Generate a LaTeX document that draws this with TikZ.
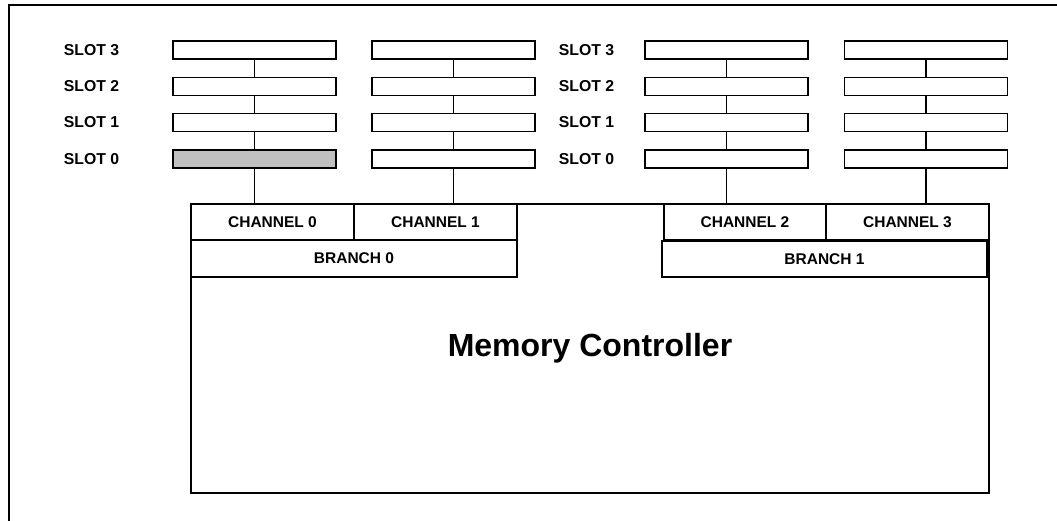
\documentclass[tikz,border=0pt]{standalone}
\usepackage{fontspec}
\setmainfont{Liberation Sans}
\definecolor{slotgray}{RGB}{192,192,192}
\begin{document}
\begin{tikzpicture}[x=1pt,y=-1pt,line width=1.8pt,
  box/.style={draw,rectangle,inner sep=0pt,outer sep=0pt},
  slotbox/.style={box,minimum width=163pt,minimum height=18pt},
  chbox/.style={box,minimum width=163pt,minimum height=36pt,font=\bfseries\fontsize{15.5}{18}\selectfont},
  brbox/.style={box,minimum width=326pt,minimum height=37pt,font=\bfseries\fontsize{15.5}{18}\selectfont},
  lbl/.style={inner sep=0pt,anchor=west,font=\bfseries\fontsize{15.8}{18}\selectfont},
  wire/.style={line width=1.5pt}]
\useasboundingbox (0,0) rectangle (1057,521);
\draw[line width=2pt] (9,521) -- (9,5) -- (1057,5);
% memory controller
\node[box,minimum width=798pt,minimum height=289pt] (mc) at (590,348.5) {};
\node[inner sep=0pt,font=\bfseries\fontsize{32}{38}\selectfont] (mclbl) at (590,348) {Memory Controller};
% channels and branches
\node[chbox] (ch0) at (272.5,222) {CHANNEL 0};
\node[chbox] (ch1) at (435.5,222) {CHANNEL 1};
\node[brbox] (br0) at (354,258.5) {BRANCH 0};
\node[chbox,minimum width=162pt] (ch2) at (745,222) {CHANNEL 2};
\node[chbox] (ch3) at (907.5,222) {CHANNEL 3};
\node[brbox,minimum width=325pt,minimum height=36pt] (br1) at (824.5,259) {BRANCH 1};
% slots
\foreach \c/\cx in {1/254.5,2/453.5,3/726.5,4/926}{
  \foreach \r/\ry in {3/50,2/86.5,1/122.5,0/159}{
    \node[slotbox] (s\c\r) at (\cx,\ry) {};
  }
}
\node[slotbox,fill=slotgray] at (s10) {};
% slot labels
\foreach \r/\ry in {3/50,2/86.5,1/122.5,0/159}{
  \node[lbl] (la\r) at (63,\ry) {SLOT \r};
  \node[lbl] (lb\r) at (558,\ry) {SLOT \r};
}
% connectors
\foreach \c in {1,2,3,4}{
  \draw[wire] (s\c3.south) -- (s\c2.north);
  \draw[wire] (s\c2.south) -- (s\c1.north);
  \draw[wire] (s\c1.south) -- (s\c0.north);
}
\draw[wire] (s10.south) -- (s10.south |- ch0.north);
\draw[wire] (s20.south) -- (s20.south |- ch1.north);
\draw[wire] (s30.south) -- (s30.south |- ch2.north);
\draw[wire] (s40.south) -- (s40.south |- ch3.north);
\end{tikzpicture}
\end{document}
